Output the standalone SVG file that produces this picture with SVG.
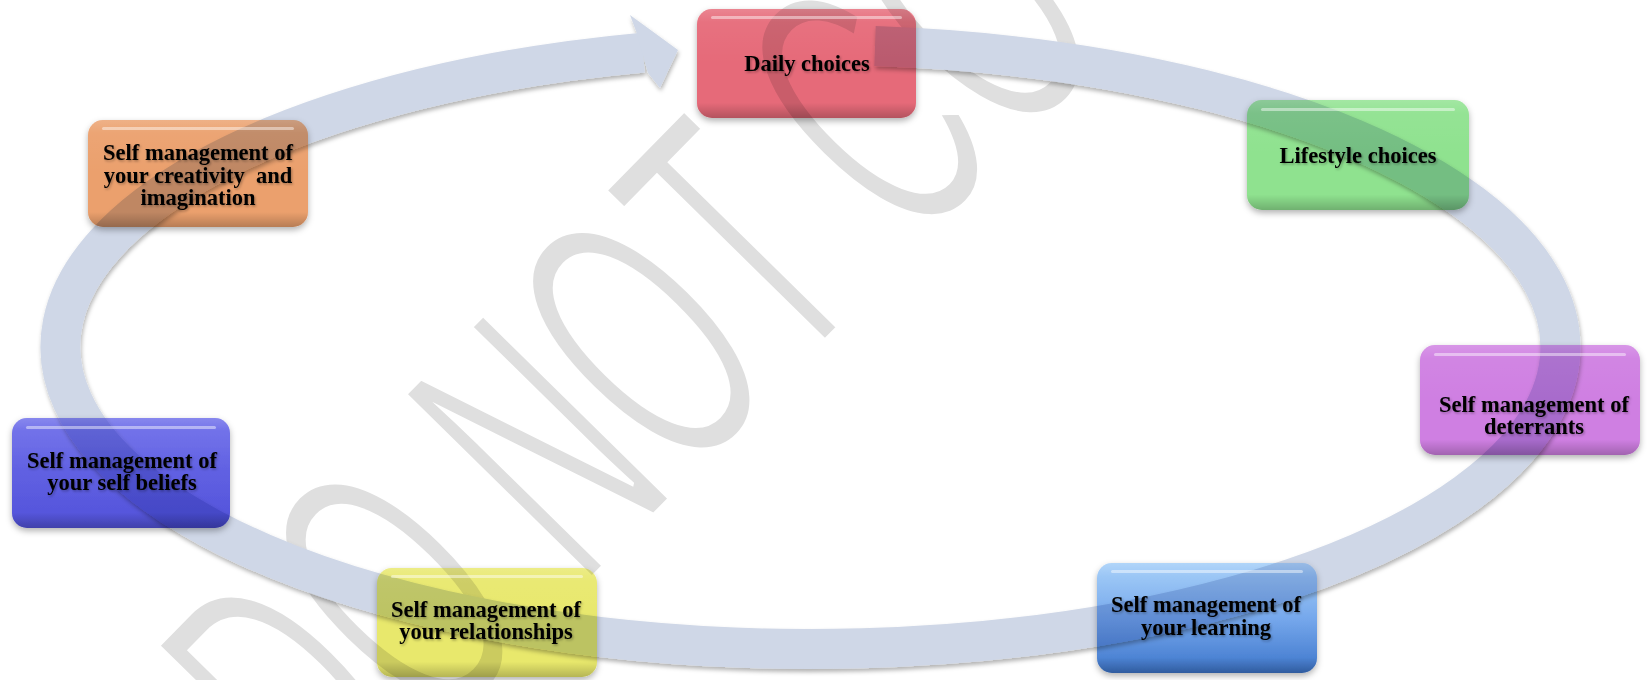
<svg xmlns="http://www.w3.org/2000/svg" width="1651" height="680" viewBox="0 0 1651 680">
  <style>
    .label { font-family: "Liberation Serif", "Times New Roman", serif; font-weight: bold; font-size: 22.5px; fill: #000; text-anchor: middle; filter: url(#textShadow); }
    .box { mix-blend-mode: multiply; filter: url(#boxShadow); }
    .gloss { fill: url(#gloss); }
    .shine { fill: #ffffff; opacity: 0.45; }
    .watermark { font-family: "Liberation Sans", Arial, sans-serif; font-size: 385px; fill: #dfdfdf; stroke: #ffffff; stroke-width: 7; }
    .ring { fill: none; stroke: #cfd7e7; stroke-width: 40; }
    .head { fill: #cfd7e7; }
  </style>
  <defs>
    <filter id="boxShadow" x="-10%" y="-15%" width="120%" height="140%">
      <feDropShadow dx="0" dy="3" stdDeviation="3" flood-color="#000" flood-opacity="0.3"/>
    </filter>
    <filter id="ringShadow" x="-5%" y="-10%" width="110%" height="120%">
      <feDropShadow dx="1" dy="3" stdDeviation="2" flood-color="#000" flood-opacity="0.3"/>
    </filter>
    <filter id="textShadow" x="-5%" y="-20%" width="110%" height="150%">
      <feDropShadow dx="1.2" dy="1.5" stdDeviation="1" flood-color="#000" flood-opacity="0.3"/>
    </filter>
    <linearGradient id="gloss" x1="0" y1="0" x2="0" y2="1">
      <stop offset="0" stop-color="#fff" stop-opacity="0.18"/>
      <stop offset="0.12" stop-color="#fff" stop-opacity="0.05"/>
      <stop offset="0.5" stop-color="#fff" stop-opacity="0"/>
      <stop offset="0.86" stop-color="#000" stop-opacity="0"/>
      <stop offset="1" stop-color="#000" stop-opacity="0.22"/>
    </linearGradient>
    <linearGradient id="blueFill" x1="0" y1="0" x2="0" y2="1">
      <stop offset="0" stop-color="#a0ccf8"/>
      <stop offset="0.5" stop-color="#76a8ec"/>
      <stop offset="1" stop-color="#3e76cb"/>
    </linearGradient>
    <linearGradient id="indigoFill" x1="0" y1="0" x2="0" y2="1">
      <stop offset="0" stop-color="#6e6eea"/>
      <stop offset="1" stop-color="#5252da"/>
    </linearGradient>
  </defs>

  <rect width="1651" height="680" fill="#ffffff"/>

  <!-- background watermark -->
  <g id="watermark">
    <text class="watermark" transform="translate(334.7,841.7) rotate(-45.5) scale(0.515,1)">DO NOT CO</text>
  </g>

  <!-- elliptical cycle arrow -->
  <g id="connectors" filter="url(#ringShadow)">
    <path class="ring" d="M 875 46.1 A 750 302 0 1 1 643 52.6"/>
    <polygon class="head" points="636,31 630,15 678,50 660,88 648,73"/>
  </g>

  <g id="node-daily-choices">
    <rect class="box" x="697" y="9" width="219" height="109" rx="15" fill="#e66b79"/>
    <rect class="gloss" x="697" y="9" width="219" height="109" rx="15"/>
    <rect class="shine" x="711" y="16" width="191" height="3" rx="1.5"/>
    <text class="label" x="807" y="71">Daily choices</text>
  </g>

  <g id="node-lifestyle-choices">
    <rect class="box" x="1247" y="100" width="222" height="110" rx="15" fill="#8fe28f"/>
    <rect class="gloss" x="1247" y="100" width="222" height="110" rx="15"/>
    <rect class="shine" x="1261" y="108" width="194" height="3" rx="1.5"/>
    <text class="label" x="1358" y="163">Lifestyle choices</text>
  </g>

  <g id="node-deterrants">
    <rect class="box" x="1420" y="345" width="220" height="110" rx="15" fill="#cf7fe2"/>
    <rect class="gloss" x="1420" y="345" width="220" height="110" rx="15"/>
    <rect class="shine" x="1434" y="353" width="192" height="3" rx="1.5"/>
    <text class="label" x="1534" y="412">Self management of</text>
    <text class="label" x="1534" y="434">deterrants</text>
  </g>

  <g id="node-learning">
    <rect class="box" x="1097" y="563" width="220" height="110" rx="15" fill="url(#blueFill)"/>
    <rect class="gloss" x="1097" y="563" width="220" height="110" rx="15"/>
    <rect class="shine" x="1111" y="570" width="192" height="3" rx="1.5"/>
    <text class="label" x="1206" y="612">Self management of</text>
    <text class="label" x="1206" y="635">your learning</text>
  </g>

  <g id="node-relationships">
    <rect class="box" x="377" y="568" width="220" height="109" rx="15" fill="#e8e86c"/>
    <rect class="gloss" x="377" y="568" width="220" height="109" rx="15"/>
    <rect class="shine" x="391" y="575" width="192" height="3" rx="1.5"/>
    <text class="label" x="486" y="617">Self management of</text>
    <text class="label" x="486" y="639">your relationships</text>
  </g>

  <g id="node-self-beliefs">
    <rect class="box" x="12" y="418" width="218" height="110" rx="15" fill="url(#indigoFill)"/>
    <rect class="gloss" x="12" y="418" width="218" height="110" rx="15"/>
    <rect class="shine" x="26" y="426" width="190" height="3" rx="1.5"/>
    <text class="label" x="122" y="468">Self management of</text>
    <text class="label" x="122" y="490">your self beliefs</text>
  </g>

  <g id="node-creativity">
    <rect class="box" x="88" y="120" width="220" height="107" rx="15" fill="#eba06d"/>
    <rect class="gloss" x="88" y="120" width="220" height="107" rx="15"/>
    <rect class="shine" x="102" y="127" width="192" height="3" rx="1.5"/>
    <text class="label" x="198" y="160">Self management of</text>
    <text class="label" x="198" y="183" style="white-space:pre">your creativity  and</text>
    <text class="label" x="198" y="205">imagination</text>
  </g>
</svg>
